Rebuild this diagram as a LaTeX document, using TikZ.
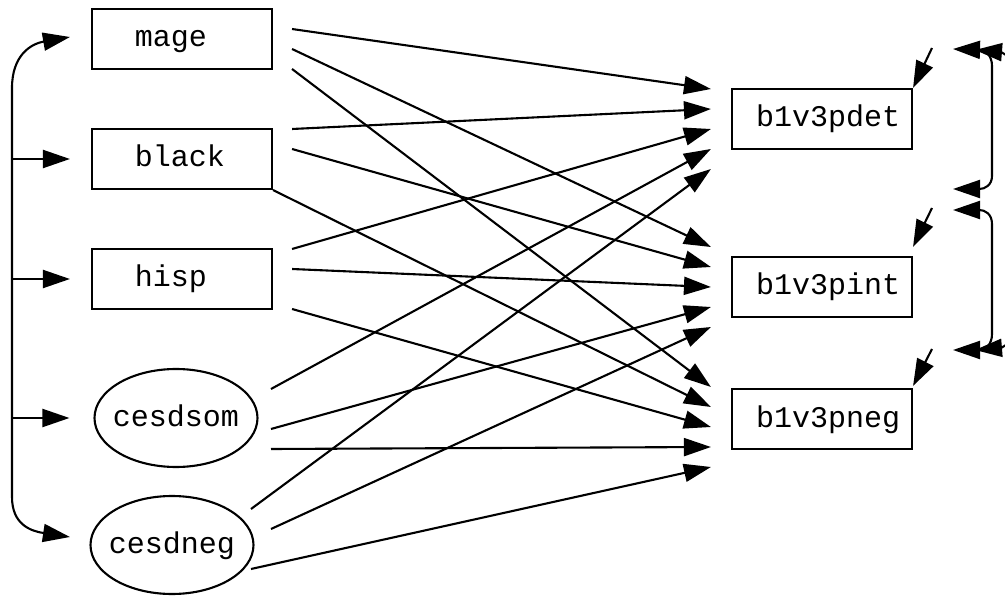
\documentclass[tikz,border=0pt]{standalone}
\usepackage{fontspec}
\setmonofont{Liberation Mono}
\usetikzlibrary{arrows.meta,shapes.geometric}
\begin{document}
\begin{tikzpicture}[x=1pt,y=-1pt,line width=2.1pt,
  arr/.style={-{Triangle[length=27pt,width=18pt]}},
  dbl/.style={{Triangle[length=27pt,width=18pt]}-{Triangle[length=27pt,width=18pt]}},
  lbl/.style={font=\ttfamily\fontsize{30}{32}\selectfont, text height=22pt, text depth=6pt},
  box/.style={lbl, draw, rectangle, minimum height=60pt, text width=180pt, inner xsep=0pt, inner ysep=0pt, align=left},
  ell/.style={lbl, draw, ellipse, minimum width=163pt, minimum height=98pt, inner sep=0pt}
]
\useasboundingbox (0,0) rectangle (1005,596);
\clip (0,0) rectangle (1005,596);

% left nodes
\node[box] (mage)  at (182,39)  {\hspace*{43pt}mage};
\node[box] (black) at (182,159) {\hspace*{43pt}black};
\node[box] (hisp)  at (182,279) {\hspace*{43pt}hisp};
\node[ell] (cesdsom) at (176,418) {\makebox[0pt]{cesdsom}};
\node[ell] (cesdneg) at (172,545) {\makebox[0pt]{cesdneg}};

% right nodes
\node[box] (pdet) at (822,119) {\hspace*{24pt}b1v3pdet};
\node[box] (pint) at (822,287) {\hspace*{24pt}b1v3pint};
\node[box] (pneg) at (822,419) {\hspace*{24pt}b1v3pneg};

% paths from mage
\draw[arr] ([xshift=19pt,yshift=10pt]mage.east)  -- ([xshift=-20pt,yshift=30pt]pdet.west);
\draw[arr] ([xshift=19pt,yshift=-10pt]mage.east) -- ([xshift=-20pt,yshift=40pt]pint.west);
\draw[arr] ([xshift=19pt,yshift=-30pt]mage.east) -- ([xshift=-20pt,yshift=32pt]pneg.west);
% paths from black
\draw[arr] ([xshift=19pt,yshift=30pt]black.east) -- ([xshift=-20pt,yshift=10pt]pdet.west);
\draw[arr] ([xshift=19pt,yshift=10pt]black.east) -- ([xshift=-20pt,yshift=20pt]pint.west);
\draw[arr] (black.south east) -- ([xshift=-20pt,yshift=12pt]pneg.west);
% paths from hisp
\draw[arr] ([xshift=19pt,yshift=30pt]hisp.east)  -- ([xshift=-20pt,yshift=-10pt]pdet.west);
\draw[arr] ([xshift=19pt,yshift=10pt]hisp.east)  -- ([xshift=-20pt]pint.west);
\draw[arr] ([xshift=19pt,yshift=-30pt]hisp.east) -- ([xshift=-20pt,yshift=-8pt]pneg.west);
% paths from cesdsom
\draw[arr] ([xshift=95pt,yshift=29pt]cesdsom.center)  -- ([xshift=-20pt,yshift=-30pt]pdet.west);
\draw[arr] ([xshift=95pt,yshift=-11pt]cesdsom.center) -- ([xshift=-20pt,yshift=-20pt]pint.west);
\draw[arr] ([xshift=95pt,yshift=-31pt]cesdsom.center) -- ([xshift=-20pt,yshift=-28pt]pneg.west);
% paths from cesdneg
\draw[arr] ([xshift=79pt,yshift=36pt]cesdneg.center)  -- ([xshift=-20pt,yshift=-50pt]pdet.west);
\draw[arr] ([xshift=99pt,yshift=16pt]cesdneg.center)  -- ([xshift=-20pt,yshift=-40pt]pint.west);
\draw[arr] ([xshift=79pt,yshift=-24pt]cesdneg.center) -- ([xshift=-20pt,yshift=-48pt]pneg.west);

% left covariance bracket
\coordinate (lt) at (12,88);
\coordinate (lb) at (12,497);
\draw[dbl] ([xshift=-21pt,yshift=2pt]mage.west) .. controls (30,44) and (12,56) .. (lt) -- (lb)
  .. controls (12,524) and (30,531) .. ([xshift=-19.5pt,yshift=8pt]cesdneg.west);
\draw[arr] (lt |- black.west) -- ([xshift=-21pt]black.west);
\draw[arr] (lt |- hisp.west) -- ([xshift=-21pt]hisp.west);
\draw[arr] (lt |- cesdsom.west) -- ([xshift=-24pt]cesdsom.west);

% error terms
\coordinate (e1) at (932,48);
\coordinate (e2) at (932,208);
\coordinate (e3) at (932,349);
\draw[arr] (e1) -- (pdet.north east);
\draw[arr] (e2) -- ([yshift=9pt]pint.north east);
\draw[arr] (e3) -- ([yshift=2pt]pneg.north east);

% right covariance brackets
\coordinate (t1) at (953,49);
\coordinate (b1) at (953,189);
\coordinate (t2) at (953,210);
\coordinate (b2) at (953,350);
\coordinate (t3) at (975,50);
\coordinate (b3) at (975,350);
\draw[dbl] (t3) .. controls (1000,52) and (1020,60) .. (1020,80) -- (1020,320)
  .. controls (1020,340) and (1000,348) .. (b3);
\draw[dbl] (t1) .. controls (985,50) and (992,55) .. (992,66) -- (992,176)
  .. controls (992,185) and (985,189) .. (b1);
\draw[dbl] (t2) .. controls (985,210) and (992,214) .. (992,224) -- (992,334)
  .. controls (992,345) and (985,350) .. (b2);
\end{tikzpicture}
\end{document}
